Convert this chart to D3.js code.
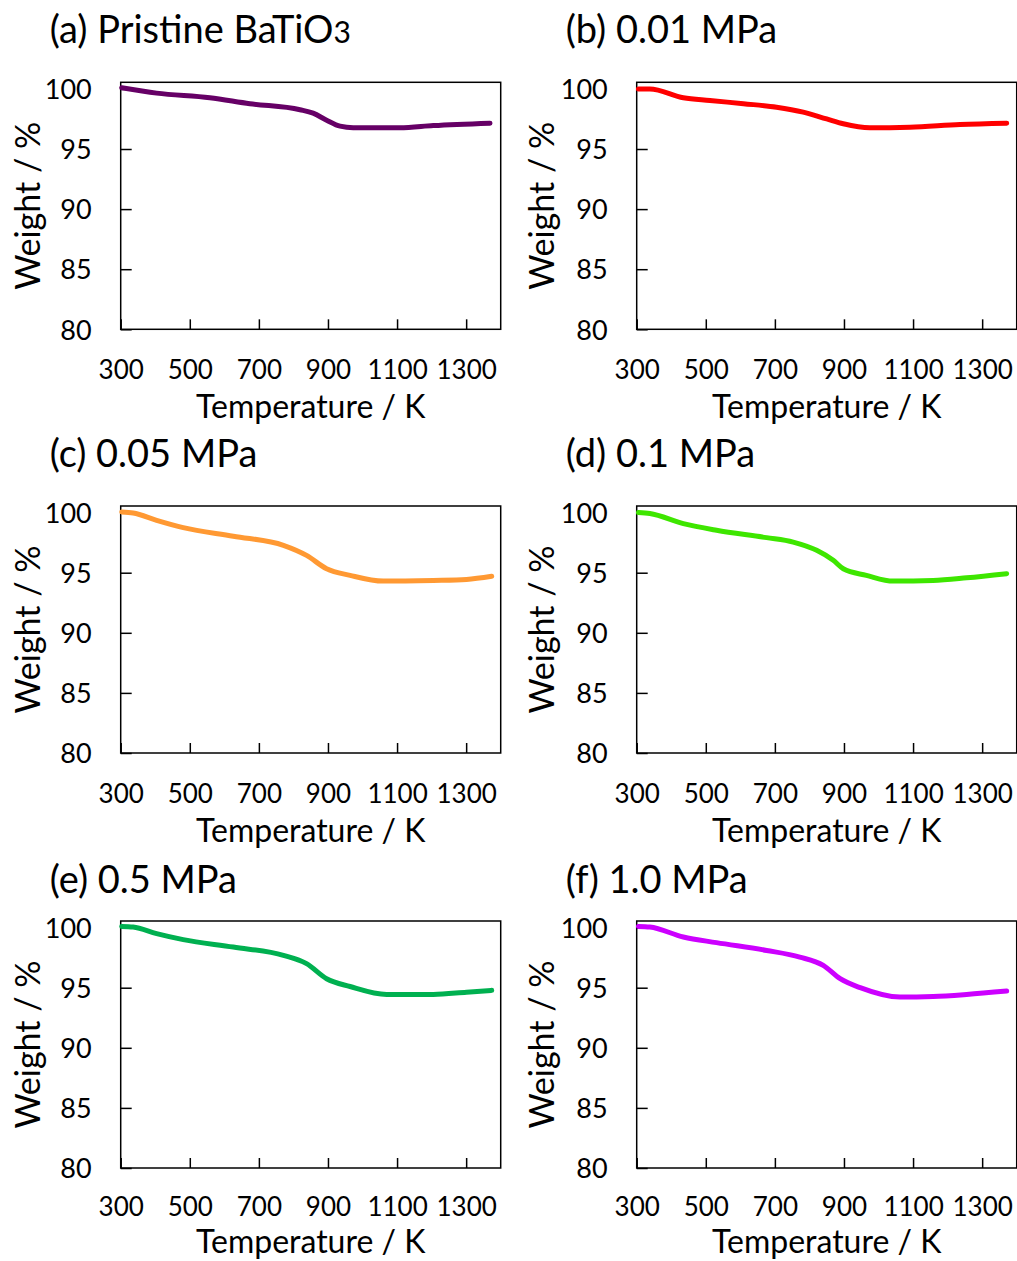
<!DOCTYPE html>
<html>
<head>
<meta charset="utf-8">
<script src="https://cdn.jsdelivr.net/npm/d3@7"></script>
<style>
  body { margin: 0; background: #fff; }
  svg text { font-family: Lato, "Noto Sans", sans-serif; fill: #000; }
</style>
</head>
<body>
<div id="chart"></div>
<script>
// values (temperature in K, weight in %)
var temp_a   = [303, 404, 558, 674, 819, 857, 896, 935, 973, 1108, 1205, 1369];
var weight_a = [100.1, 99.65, 99.27, 98.77, 98.27, 97.98, 97.4, 96.9, 96.77, 96.77, 96.95, 97.15];

var temp_b   = [305, 338, 435, 512, 609, 705, 782, 850, 898, 975, 1091, 1236, 1371];
var weight_b = [100.0, 100.0, 99.27, 99.04, 98.77, 98.48, 98.07, 97.5, 97.1, 96.77, 96.82, 97.04, 97.15];

var temp_c   = [303, 336, 404, 481, 626, 771, 838, 896, 964, 1060, 1205, 1301, 1374];
var weight_c = [100.05, 99.97, 99.36, 98.75, 98.03, 97.28, 96.44, 95.33, 94.78, 94.3, 94.36, 94.44, 94.7];

var temp_d   = [305, 338, 435, 531, 676, 753, 821, 869, 898, 965, 1043, 1158, 1255, 1371];
var weight_d = [100.0, 99.92, 99.08, 98.53, 97.92, 97.55, 96.86, 96.03, 95.33, 94.78, 94.3, 94.36, 94.58, 94.92];

var temp_e   = [303, 336, 404, 481, 626, 771, 838, 896, 964, 1070, 1205, 1301, 1374];
var weight_e = [100.1, 100.05, 99.5, 99.0, 98.38, 97.69, 97.0, 95.75, 95.1, 94.44, 94.44, 94.63, 94.78];

var temp_f   = [305, 338, 435, 531, 676, 772, 840, 889, 947, 1062, 1158, 1255, 1371];
var weight_f = [100.1, 100.05, 99.22, 98.75, 98.1, 97.55, 96.86, 95.75, 95.0, 94.22, 94.27, 94.44, 94.72];

var panelTitles = ["(a) Pristine BaTiO", "(b) 0.01 MPa", "(c) 0.05 MPa", "(d) 0.1 MPa", "(e) 0.5 MPa", "(f) 1.0 MPa"];
var panelColors = ["#660066", "#ff0000", "#ff9933", "#3ee600", "#00b050", "#cc00ff"];
var xTicks = [300, 500, 700, 900, 1100, 1300];
var yTicks = [80, 85, 90, 95, 100];

var temps   = [temp_a, temp_b, temp_c, temp_d, temp_e, temp_f];
var weights = [weight_a, weight_b, weight_c, weight_d, weight_e, weight_f];

// page layout
var width = 1017, height = 1261;
var colLeft = [120.7, 636.7];
var rowTop = [82.3, 506, 921];
var titleBase = [43, 467, 893];
var tickOffset = [50, 50, 48];
var xTitleOffset = [89, 89, 85];
var plotW = 380, plotH = 247;

var svg = d3.select("#chart").append("svg")
    .attr("width", width)
    .attr("height", height);

var x = d3.scaleLinear().domain([300, 1400]).range([0, plotW]);
var y = d3.scaleLinear().domain([80, 100.55]).range([plotH, 0]);

var line = d3.line()
    .x(function(d){ return x(d[0]); })
    .y(function(d){ return y(d[1]); })
    .curve(d3.curveMonotoneX);

panelTitles.forEach(function(title, i){
    var col = i % 2, row = Math.floor(i / 2);
    var g = svg.append("g")
        .attr("transform", "translate(" + colLeft[col] + "," + rowTop[row] + ")");

    //x axis with inward ticks
    var xAxis = g.append("g")
        .attr("transform", "translate(0," + plotH + ")")
        .call(d3.axisBottom(x).tickValues(xTicks).tickFormat(d3.format("d"))
            .tickSizeInner(-10).tickSizeOuter(0).tickPadding(0));
    xAxis.select(".domain").remove();
    xAxis.selectAll("line").attr("stroke", "#000").attr("stroke-width", 1.5);
    xAxis.selectAll("text")
        .attr("y", tickOffset[row]).attr("dy", null)
        .style("font-size", "26px")
        .attr("font-family", null);

    //y axis
    var yAxis = g.append("g")
        .call(d3.axisLeft(y).tickValues(yTicks).tickSizeInner(-11).tickSizeOuter(0));
    yAxis.select(".domain").remove();
    yAxis.selectAll("line").attr("stroke", "#000").attr("stroke-width", 1.5);
    yAxis.selectAll("text")
        .attr("x", -29).attr("dy", "0.36em")
        .style("font-size", "27px")
        .attr("font-family", null);

    g.append("rect")
        .attr("width", plotW)
        .attr("height", plotH)
        .attr("fill", "none")
        .attr("stroke", "#000")
        .attr("stroke-width", 1.5);

    var pts = d3.zip(temps[i], weights[i]);
    g.append("path")
        .datum(pts)
        .attr("d", line)
        .attr("fill", "none")
        .attr("stroke", panelColors[i])
        .attr("stroke-width", 5)
        .attr("stroke-linecap", "round")
        .attr("stroke-linejoin", "round");

    g.append("text")
        .attr("x", plotW / 2)
        .attr("y", plotH + xTitleOffset[row])
        .attr("text-anchor", "middle")
        .style("font-size", "32px")
        .text("Temperature / K");

    g.append("text")
        .attr("transform", "translate(" + (col == 0 ? -93 : -95) + "," + (plotH / 2) + ") rotate(-90)")
        .attr("text-anchor", "middle")
        .attr("dy", "0.35em")
        .style("font-size", "34px")
        .text("Weight / %");

    var t = svg.append("text")
        .attr("x", colLeft[col] - 71)
        .attr("y", titleBase[row])
        .style("font-size", "38px")
        .text(title);
    if (i == 0) {
        t.append("tspan").style("font-size", "30px").text("3");
    }
});
</script>
</body>
</html>
